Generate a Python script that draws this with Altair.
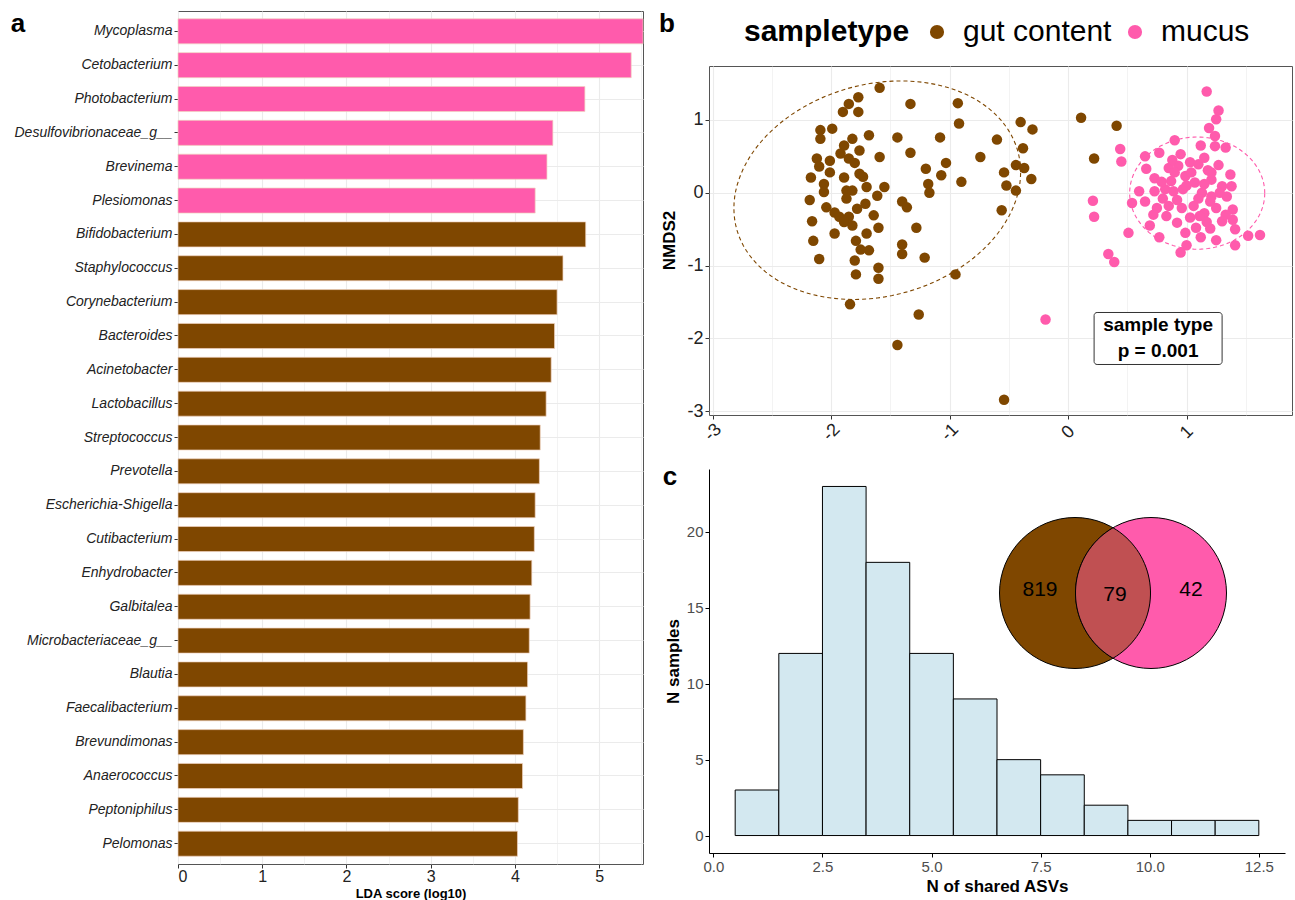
import altair as alt
import numpy as np
import pandas as pd

BROWN = "#7F4700"
PINK = "#FF5BAC"
LENS = "#C05052"
HIST_FILL = "#D3E8F0"
GRID = "#EBEBEB"
FONT = "Liberation Sans"

# ---------------- panel a : LDA scores ----------------
taxa = ["Mycoplasma", "Cetobacterium", "Photobacterium", "Desulfovibrionaceae_g__",
        "Brevinema", "Plesiomonas", "Bifidobacterium", "Staphylococcus",
        "Corynebacterium", "Bacteroides", "Acinetobacter", "Lactobacillus",
        "Streptococcus", "Prevotella", "Escherichia-Shigella", "Cutibacterium",
        "Enhydrobacter", "Galbitalea", "Microbacteriaceae_g__", "Blautia",
        "Faecalibacterium", "Brevundimonas", "Anaerococcus", "Peptoniphilus", "Pelomonas"]
lda_score = [5.52, 5.38, 4.83, 4.45, 4.38, 4.24, 4.84, 4.57, 4.50, 4.47, 4.43, 4.37,
             4.30, 4.29, 4.24, 4.23, 4.20, 4.18, 4.17, 4.15, 4.13, 4.10, 4.09, 4.04, 4.03]
enriched_in = ["mucus"] * 6 + ["gut content"] * 19
lda_ticks = [0, 0.5, 1, 1.5, 2, 2.5, 3, 3.5, 4, 4.5, 5, 5.5]

# ---------------- panel b : NMDS ----------------
gut_x = [-1.59, -1.77, -1.85, -1.90, -1.77, -2.09, -1.99, -2.09, -1.82, -1.68,
         -1.89, -1.76, -1.92, -1.59, -2.12, -2.01, -1.85, -1.80, -2.10, -2.17,
         -2.01, -1.89, -1.76, -1.73, -2.06, -2.06, -1.87, -1.82, -1.70, -1.55,
         -1.61, -1.87, -2.18, -2.04, -1.71, -1.78, -1.97, -1.93, -1.85, -1.89,
         -1.82, -1.64, -2.16, -1.97, -1.70, -1.60, -1.79, -2.15, -1.75, -1.68,
         -2.10, -1.80, -1.79, -1.60, -1.60, -1.84,
         -1.33, -0.93, -0.92, -1.44, -1.08, -1.33, -0.60, -0.40, -0.30, -0.38,
         -0.74, -1.03, -1.20, -1.07, -0.90, -1.18, -1.17, -0.54, -0.44, -0.37,
         -0.31, -0.52, -0.44, -1.40, -1.36, -1.28, -0.56, -1.40, -1.40, -1.21,
         -0.95, -1.26, -1.44, -0.54, 0.11, 0.41, 0.22]
gut_y = [1.44, 1.31, 1.22, 1.11, 1.11, 0.86, 0.88, 0.74, 0.74, 0.79,
         0.65, 0.58, 0.54, 0.49, 0.47, 0.44, 0.47, 0.41, 0.36, 0.21,
         0.28, 0.21, 0.26, 0.22, 0.12, 0.01, 0.03, 0.03, 0.08, 0.08,
         -0.04, -0.08, -0.10, -0.20, -0.15, -0.22, -0.27, -0.33, -0.33, -0.40,
         -0.45, -0.31, -0.39, -0.56, -0.56, -0.48, -0.66, -0.66, -0.78, -0.79,
         -0.91, -0.93, -1.12, -1.03, -1.18, -1.53,
         1.22, 1.23, 0.95, 0.76, 0.76, 0.55, 0.73, 0.97, 0.87, 0.61,
         0.49, 0.41, 0.33, 0.24, 0.15, 0.12, 0.00, 0.28, 0.38, 0.34,
         0.19, 0.10, 0.03, -0.12, -0.20, -0.48, -0.24, -0.71, -0.84, -0.89,
         -1.12, -1.67, -2.09, -2.84, 1.03, 0.92, 0.47]
mucus_x = [1.17, 1.27, 1.25, 1.19, 1.24, 1.12, 1.24, 1.33, 0.90, 0.44,
           0.45, 0.65, 0.77, 0.95, 0.66, 0.73, 0.85, 0.93, 1.03, 1.10,
           1.18, 1.27, 1.37, 1.38, 0.99, 1.07, 1.21, 1.30, 0.73, 0.82,
           0.89, 0.97, 1.13, 1.21, 1.34, 0.54, 0.65, 0.75, 0.85, 0.96,
           1.06, 1.15, 1.25, 1.39, 0.72, 0.83, 0.92, 1.03, 1.11, 1.30,
           1.39, 0.69, 0.99, 1.08, 1.20, 1.41, 0.77, 1.12, 1.25, 1.00,
           0.95, 1.41, 1.52, 1.62, 0.51, 0.79, 0.87, 1.21, 1.04, 0.90,
           1.00, 1.15, 1.10, 0.80, 0.92, 1.28, 1.33, 1.20, 0.88, 1.15,
           0.60, 1.17, 0.21, 0.22, 0.34, 0.39, -0.19]
mucus_y = [1.39, 1.13, 1.01, 0.89, 0.78, 0.65, 0.64, 0.62, 0.72, 0.60,
           0.43, 0.50, 0.55, 0.53, 0.33, 0.20, 0.34, 0.37, 0.42, 0.39,
           0.31, 0.38, 0.25, 0.09, 0.23, 0.14, 0.18, 0.09, 0.02, 0.05,
           0.02, 0.05, 0.00, -0.05, -0.05, -0.14, -0.12, -0.21, -0.18, -0.21,
           -0.18, -0.28, -0.21, -0.23, -0.30, -0.32, -0.41, -0.34, -0.32, -0.39,
           -0.37, -0.45, -0.55, -0.48, -0.49, -0.50, -0.61, -0.61, -0.65, -0.72,
           -0.82, -0.72, -0.59, -0.58, -0.55, 0.15, 0.16, 0.28, 0.28, 0.28,
           0.10, 0.12, -0.08, -0.08, -0.10, 0.00, -0.30, -0.12, 0.45, 0.48,
           0.02, -0.40, -0.11, -0.33, -0.84, -0.95, -1.74]
nmds_ticks = [-3, -2.5, -2, -1.5, -1, -0.5, 0, 0.5, 1, 1.5]
sample_types = ["gut content", "mucus"]

# 95% ellipse parameters (centre and axis matrix), as stat_ellipse would give
ellipse_params = {
    "gut content": {"cx": -1.61, "cy": 0.035, "a11": 1.21, "a21": 0.248, "a22": 1.479},
    "mucus": {"cx": 1.09, "cy": -0.005, "a11": 0.57, "a21": 0.0, "a22": 0.77},
}
permanova_label = "sample type\np = 0.001"
permanova_pos = (0.76, -2.0)

# ---------------- panel c : shared ASVs ----------------
hist_centers = [1, 2, 3, 4, 5, 6, 7, 8, 9, 10, 11, 12]
hist_counts = [3, 12, 23, 18, 12, 9, 5, 4, 2, 1, 1, 1]
hist_x_ticks = [0, 2.5, 5, 7.5, 10, 12.5]
hist_y_ticks = [0, 5, 10, 15, 20]
venn_gut_only = 819
venn_shared = 79
venn_mucus_only = 42

# ======================================================
minor_test = "datum.value % 1 != 0"
int_label = "datum.value % 1 == 0 ? '' + datum.value : ''"
tick_op = {"condition": {"test": minor_test, "value": 0}, "value": 1}
grid_w = {"condition": {"test": minor_test, "value": 0.6}, "value": 1.1}
colscale = alt.Scale(domain=sample_types, range=[BROWN, PINK])
one = pd.DataFrame({"k": [0]})


def panel_label(letter, x, y):
    return alt.Chart(pd.DataFrame({"t": [letter]})).mark_text(
        fontSize=26, fontWeight="bold", align="center", baseline="middle", font=FONT).encode(
        x=alt.value(x), y=alt.value(y), text="t:N")


# ---------------- panel a ----------------
dfa = pd.DataFrame({"taxon": taxa, "lda": lda_score, "group": enriched_in})
bars_a = alt.Chart(dfa).mark_bar(stroke="#F0D2C0", strokeWidth=0.7).encode(
    y=alt.Y("taxon:N", sort=taxa, title=None,
            scale=alt.Scale(paddingInner=0.26, paddingOuter=0.23),
            axis=alt.Axis(labelFontStyle="italic", labelFontSize=14,
                          labelColor="#222222", tickColor="#333333", tickSize=4, labelPadding=2,
                          domain=False, grid=True, gridColor=GRID, gridWidth=1.1, labelLimit=400)),
    x=alt.X("lda:Q", title="LDA score (log10)",
            scale=alt.Scale(domain=[0, 5.52], nice=False),
            axis=alt.Axis(values=lda_ticks, labelExpr=int_label,
                          tickOpacity=tick_op, gridWidth=grid_w,
                          grid=True, gridColor=GRID, domain=False,
                          labelFontSize=16, labelColor="#222222",
                          tickColor="#333333", tickSize=4, labelPadding=0,
                          titleFontSize=13, titleFontWeight="bold",
                          titleY=29, titleBaseline="middle")),
    color=alt.Color("group:N", scale=colscale, legend=None),
)
panel_a = alt.layer(bars_a, panel_label("a", -160, 13)).properties(
    width=465, height=853, view=alt.ViewBackground(stroke="#555555", strokeWidth=1))

# ---------------- header of panel b (label + legend) ----------------
leg_df = pd.DataFrame({"sampletype": sample_types})
header_b = alt.layer(
    alt.Chart(leg_df).mark_circle(opacity=0).encode(
        color=alt.Color("sampletype:N", scale=colscale, title="sampletype",
                        legend=alt.Legend(orient="none", legendX=35, legendY=6, direction="horizontal",
                                          titleOrient="left", titleFontSize=30, titleFontWeight="bold",
                                          titleColor="black", labelFontSize=30, labelColor="black",
                                          titleFont=FONT, labelFont=FONT,
                                          symbolType="circle", symbolSize=200, symbolStrokeWidth=0,
                                          symbolOpacity=1, labelOffset=11, columnPadding=8,
                                          titlePadding=12))),
    panel_label("b", -42, 13),
).properties(width=583, height=42)

# ---------------- panel b ----------------
dfb = pd.DataFrame({
    "NMDS1": gut_x + mucus_x,
    "NMDS2": gut_y + mucus_y,
    "sampletype": ["gut content"] * len(gut_x) + ["mucus"] * len(mucus_x),
})
rows = []
t = np.linspace(0, 2 * np.pi, 121)
for g, p in ellipse_params.items():
    ex = p["cx"] + p["a11"] * np.cos(t)
    ey = p["cy"] + p["a21"] * np.cos(t) + p["a22"] * np.sin(t)
    for i, (u, v) in enumerate(zip(ex, ey)):
        rows.append({"g": g, "i": i, "x": u, "y": v})
dfe = pd.DataFrame(rows)

xb = alt.X("NMDS1:Q", title=None, scale=alt.Scale(domain=[-3.03, 1.89], nice=False, zero=False),
           axis=alt.Axis(values=nmds_ticks, labelExpr=int_label,
                         tickOpacity=tick_op, gridWidth=grid_w,
                         grid=True, gridColor=GRID, domain=False, labelAngle=315,
                         labelAlign="center", labelBaseline="middle", labelPadding=13,
                         labelFontSize=18, labelColor="#222222",
                         tickColor="#333333", tickSize=4))
yb = alt.Y("NMDS2:Q", title="NMDS2", scale=alt.Scale(domain=[-3.05, 1.74], nice=False, zero=False),
           axis=alt.Axis(values=nmds_ticks, labelExpr=int_label,
                         tickOpacity=tick_op, gridWidth=grid_w,
                         grid=True, gridColor=GRID, domain=False,
                         labelFontSize=18, labelColor="#222222",
                         tickColor="#333333", tickSize=4,
                         labelPadding=2, titleFontSize=17, titleFontWeight="bold",
                         titleX=-40, titleY=174, titleBaseline="middle", titleAlign="center"))

pts = alt.Chart(dfb).mark_circle(size=110, opacity=1).encode(
    x=xb, y=yb, color=alt.Color("sampletype:N", scale=colscale, legend=None))
ell_layers = []
for g, c in zip(sample_types, [BROWN, PINK]):
    ell_layers.append(
        alt.Chart(dfe).transform_filter(alt.datum.g == g).mark_line(
            strokeDash=[4, 3], strokeWidth=1.1, color=c).encode(x="x:Q", y="y:Q", order="i:Q"))
ann_df = pd.DataFrame({"x": [permanova_pos[0]], "y": [permanova_pos[1]], "label": [permanova_label]})
ann_box = alt.Chart(ann_df).mark_rect(width=128, height=52, fill="white", stroke="#333333",
                                      strokeWidth=1, cornerRadius=3).encode(x="x:Q", y="y:Q")
ann_txt = alt.Chart(ann_df).mark_text(fontSize=19, fontWeight="bold", lineBreak="\n",
                                      lineHeight=26, align="center", baseline="middle", dy=-13,
                                      color="black").encode(x="x:Q", y="y:Q", text="label:N")
panel_b = alt.layer(*ell_layers, pts, ann_box, ann_txt).properties(
    width=583, height=349, view=alt.ViewBackground(stroke="#555555", strokeWidth=1))

# ---------------- panel c ----------------
dfc = pd.DataFrame({"center": hist_centers, "count": hist_counts})
dfc["start"] = dfc["center"] - 0.5
dfc["end"] = dfc["center"] + 0.5
hist = alt.Chart(dfc).mark_rect(fill=HIST_FILL, stroke="black", strokeWidth=1).encode(
    x=alt.X("start:Q", title="N of shared ASVs", scale=alt.Scale(domain=[-0.1, 13.1], nice=False, zero=False),
            axis=alt.Axis(values=hist_x_ticks, format=".1f", grid=False, domainColor="black",
                          tickColor="black", tickSize=4, labelFontSize=15,
                          labelColor="#4D4D4D", labelPadding=2, titleFontSize=17,
                          titleFontWeight="bold", titlePadding=4)),
    x2="end:Q",
    y=alt.Y("count:Q", title="N samples", scale=alt.Scale(domain=[-1.15, 24.15], nice=False, zero=False),
            axis=alt.Axis(values=hist_y_ticks, grid=False, domainColor="black", tickColor="black",
                          tickSize=4, labelFontSize=15, labelColor="#4D4D4D",
                          labelPadding=2, titleFontSize=17, titleFontWeight="bold",
                          titleX=-36, titleY=192, titleBaseline="middle", titleAlign="center")),
    y2=alt.datum(0),
)

# Venn inset (layout in pixels of the panel)
R = 75.5
gx, gy = 366, 124
mx, my = 442, 124
size = (2 * R) ** 2
half_d = (mx - gx) / 2.0 / R
h = np.sqrt(1 - half_d ** 2)
ang = np.arcsin(h)
s1 = np.linspace(-ang, ang, 40)
right = [(-half_d + np.cos(a), np.sin(a)) for a in s1]
left = [(half_d - np.cos(a), -np.sin(a)) for a in s1]
lens_path = "M" + "L".join(f"{u:.4f},{v:.4f}" for u, v in right + left) + "Z"

circ_g = alt.Chart(one).mark_point(shape="circle", filled=True, size=size, fill=BROWN,
                                   stroke="black", strokeWidth=1, opacity=1).encode(
    x=alt.value(gx), y=alt.value(gy))
circ_m = alt.Chart(one).mark_point(shape="circle", filled=True, size=size, fill=PINK,
                                   stroke="black", strokeWidth=1, opacity=1).encode(
    x=alt.value(mx), y=alt.value(my))
lens = alt.Chart(one).mark_point(shape=lens_path, filled=True, size=size, fill=LENS,
                                 stroke="black", strokeWidth=1, opacity=1).encode(
    x=alt.value((gx + mx) / 2), y=alt.value(gy))
txt_g = alt.Chart(pd.DataFrame({"n": [venn_gut_only]})).mark_text(fontSize=21, color="black").encode(
    x=alt.value(331), y=alt.value(121), text="n:Q")
txt_s = alt.Chart(pd.DataFrame({"n": [venn_shared]})).mark_text(fontSize=21, color="black").encode(
    x=alt.value(406), y=alt.value(126), text="n:Q")
txt_m = alt.Chart(pd.DataFrame({"n": [venn_mucus_only]})).mark_text(fontSize=21, color="black").encode(
    x=alt.value(482), y=alt.value(121), text="n:Q")
top_pad_c = alt.Chart(one).mark_rule(opacity=0).encode(
    x=alt.value(0), y=alt.value(-11.5), y2=alt.value(0))
panel_c = alt.layer(hist, circ_g, circ_m, lens, txt_g, txt_s, txt_m,
                    panel_label("c", -39, 8), top_pad_c).properties(width=576, height=384)

right_col = alt.vconcat(header_b, panel_b, panel_c, spacing=12).resolve_scale(color="independent")
chart = alt.hconcat(panel_a, right_col, spacing=15).resolve_scale(color="independent").properties(
    padding={"left": 10, "top": 10, "right": 0, "bottom": 0}
).configure(font=FONT).configure_view(stroke=None).configure_axis(labelFont=FONT, titleFont=FONT)

chart.save("out.html", embed_options={"renderer": "svg", "actions": False})
